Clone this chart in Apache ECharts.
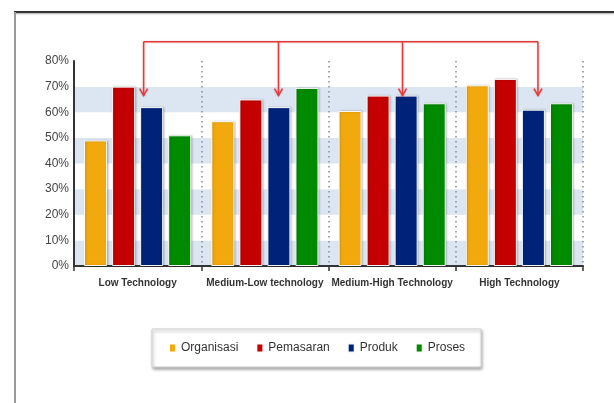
<!DOCTYPE html>
<html>
<head>
<meta charset="utf-8">
<script src="https://cdn.jsdelivr.net/npm/echarts@6/dist/echarts.min.js"></script>
<style>
  html, body { margin: 0; padding: 0; background: #fff; }
  #chart { width: 614px; height: 403px; }
</style>
</head>
<body>
<div id="chart"></div>
<script>
// Innovation type shares by technology intensity group
const categories = ['Low Technology', 'Medium-Low technology', 'Medium-High Technology', 'High Technology'];
const organisasi = [49, 56.5, 60.5, 70.5];
const pemasaran  = [70, 65, 66.5, 73];
const produk     = [62, 62, 66.5, 61];
const proses     = [51, 69.5, 63.5, 63.5];
const yTicks     = [0, 10, 20, 30, 40, 50, 60, 70, 80];

// Callout arrows: where each arrow points (value) and the level of the connecting rail
const arrowTips  = [66.5, 66.5, 66.5, 66.5];
const arrowRail  = 87.5;

const seriesNames  = ['Organisasi', 'Pemasaran', 'Produk', 'Proses'];
const seriesValues = [organisasi, pemasaran, produk, proses];
const seriesColors = ['#f2a90e', '#c40000', '#00237a', '#008a00'];

const FONT = '"Liberation Sans", Arial, sans-serif';
const ARROW_COLOR = '#e03c3c';
// horizontal shift of each arrow from its category centre, px
const ARROW_DX = [6, 13.6, 10.4, 18.6];

const chart = echarts.init(document.getElementById('chart'), null, { renderer: 'canvas' });

const barSeries = seriesNames.map((name, k) => ({
  name: name,
  type: 'bar',
  data: seriesValues[k],
  barWidth: 23,
  barGap: '22%',
  itemStyle: {
    color: seriesColors[k],
    borderColor: 'rgba(255,255,255,0.95)',
    borderWidth: 1,
    shadowColor: 'rgba(0,0,0,0.22)',
    shadowBlur: 2,
    shadowOffsetX: 1,
    shadowOffsetY: 0
  },
  emphasis: { disabled: true },
  animation: false
}));

const arrowSeries = {
  type: 'custom',
  name: 'callouts',
  silent: true,
  z: 10,
  animation: false,
  data: arrowTips.map((v, i) => [i, v]),
  encode: { x: 0, y: 1 },
  renderItem: function (params, api) {
    const i = params.dataIndex;
    const tip = api.coord([api.value(0), api.value(1)]);
    const x = tip[0] + ARROW_DX[i];
    const yTip = tip[1];
    const yRail = api.coord([api.value(0), arrowRail])[1];
    const style = {
      stroke: ARROW_COLOR,
      lineWidth: 1.5,
      fill: null,
      shadowColor: 'rgba(224,60,60,0.35)',
      shadowBlur: 2
    };
    const children = [
      { type: 'polyline', shape: { points: [[x, yRail], [x, yTip]] }, style: style },
      { type: 'polyline', shape: { points: [[x - 4, yTip - 7], [x, yTip], [x + 4, yTip - 7]] }, style: style }
    ];
    if (i === 0) {
      const last = arrowTips.length - 1;
      const xEnd = api.coord([last, arrowRail])[0] + ARROW_DX[last];
      children.push({ type: 'polyline', shape: { points: [[x, yRail], [xEnd, yRail]] }, style: style });
    }
    return { type: 'group', children: children };
  }
};

chart.setOption({
  backgroundColor: '#ffffff',
  animation: false,
  textStyle: { fontFamily: FONT },
  grid: { left: 74, right: 31, top: 61, bottom: 137, containLabel: false },
  legend: {
    data: seriesNames,
    left: 152,
    top: 329,
    orient: 'horizontal',
    icon: 'rect',
    itemWidth: 7,
    itemHeight: 9,
    itemGap: 17,
    padding: [13, 16],
    backgroundColor: '#ffffff',
    borderColor: '#cfcfcf',
    borderWidth: 1,
    shadowColor: 'rgba(0,0,0,0.35)',
    shadowBlur: 3,
    shadowOffsetX: 1,
    shadowOffsetY: 2,
    selectedMode: false,
    textStyle: { fontFamily: FONT, fontSize: 12, color: '#333' }
  },
  xAxis: {
    type: 'category',
    data: categories,
    boundaryGap: true,
    axisLine: { show: true, lineStyle: { color: '#333', width: 2 } },
    axisTick: { show: true, length: 5, lineStyle: { color: '#333', width: 1.5 } },
    splitLine: { show: true, lineStyle: { color: '#8a8a8a', width: 1.5, type: [1.5, 3.5] } },
    axisLabel: {
      interval: 0,
      margin: 12,
      fontFamily: FONT,
      fontSize: 10,
      fontWeight: 'bold',
      color: '#333'
    }
  },
  yAxis: {
    type: 'value',
    min: yTicks[0],
    max: yTicks[yTicks.length - 1],
    interval: yTicks[1] - yTicks[0],
    axisLine: { show: true, lineStyle: { color: '#333', width: 2 } },
    axisTick: { show: false },
    splitLine: { show: false },
    splitArea: { show: true, areaStyle: { color: ['#dce6f2', '#ffffff'] } },
    axisLabel: {
      margin: 5,
      fontFamily: FONT,
      fontSize: 12,
      color: '#444',
      formatter: '{value}%'
    }
  },
  graphic: [
    // frame around the figure
    { type: 'line', shape: { x1: 14, y1: 12, x2: 614, y2: 12 },
      style: { stroke: '#333', lineWidth: 2, shadowColor: 'rgba(0,0,0,0.35)', shadowBlur: 2, shadowOffsetY: 1 }, z: 20 },
    { type: 'line', shape: { x1: 15, y1: 12, x2: 15, y2: 403 },
      style: { stroke: '#9a9a9a', lineWidth: 2 }, z: 20 }
  ],
  series: barSeries.concat([arrowSeries])
});
</script>
</body>
</html>
